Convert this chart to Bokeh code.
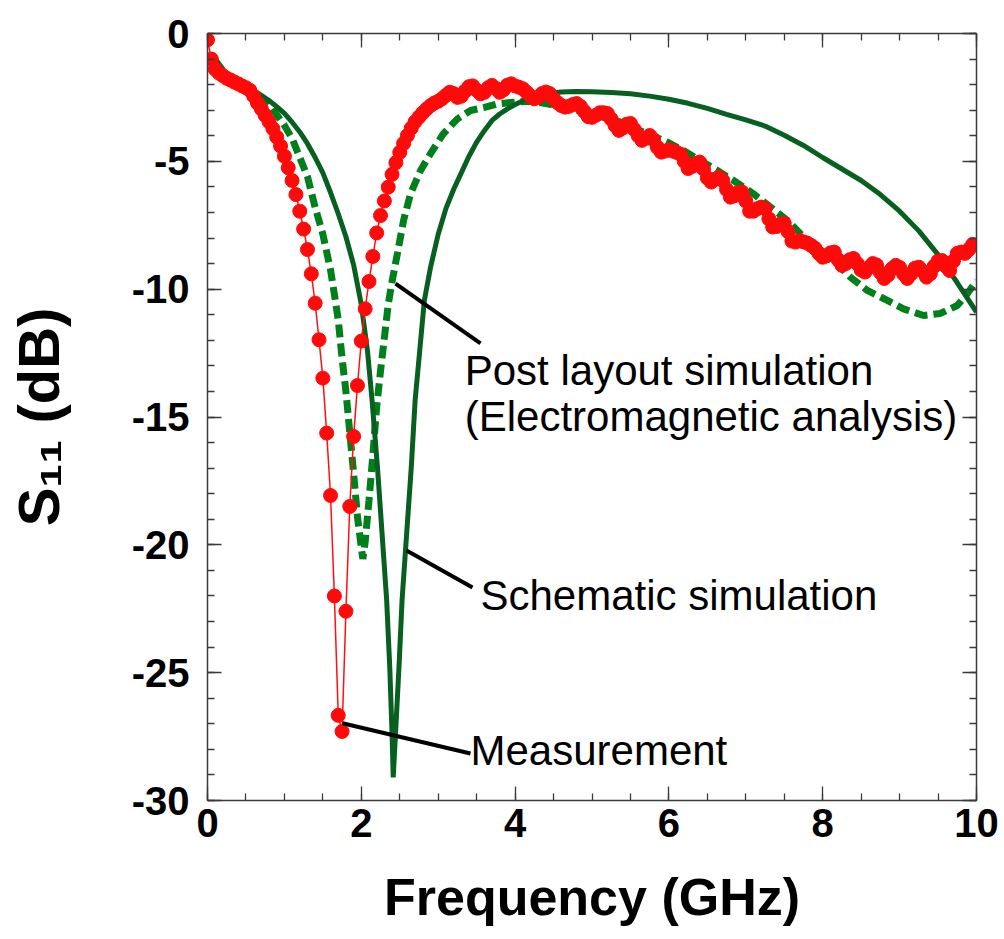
from bokeh.plotting import figure
from bokeh.models import (Range1d, LinearAxis, Label, FixedTicker,
                          ColumnDataSource, NumeralTickFormatter)
from bokeh.embed import file_html
from bokeh.resources import INLINE

# ---------------- data ----------------
meas_s11 = [
    -0.25, -1.00, -1.40, -1.55, -1.65, -1.75, -1.82, -1.90, -1.97, -2.05,
    -2.12, -2.22, -2.45, -2.72, -2.95, -3.20, -3.45, -3.72, -4.05, -4.40,
    -4.80, -5.25, -5.75, -6.30, -6.95, -7.65, -8.45, -9.40, -10.55, -11.98,
    -13.48, -15.63, -18.07, -22.00, -26.67, -27.30, -22.60, -18.50, -15.76, -13.77,
    -12.03, -10.77, -9.70, -8.72, -7.80, -7.12, -6.55, -6.01, -5.51, -5.05,
    -4.65, -4.30, -3.99, -3.70, -3.45, -3.27, -3.10, -2.95, -2.82, -2.72,
    -2.65, -2.55, -2.42, -2.30, -2.35, -2.50, -2.45, -2.25, -2.08, -2.05,
    -2.22, -2.36, -2.30, -2.12, -2.03, -2.15, -2.30, -2.20, -2.02, -1.97,
    -2.05, -2.10, -2.16, -2.30, -2.45, -2.55, -2.50, -2.35, -2.29, -2.35,
    -2.55, -2.70, -2.82, -2.88, -2.85, -2.78, -2.74, -2.85, -3.05, -3.25,
    -3.28, -3.20, -3.10, -3.10, -3.13, -3.35, -3.60, -3.79, -3.70, -3.55,
    -3.52, -3.75, -4.00, -4.18, -4.10, -3.99, -4.15, -4.45, -4.64, -4.60,
    -4.55, -4.60, -4.65, -4.72, -5.00, -5.28, -5.20, -5.08, -5.03, -5.30,
    -5.65, -5.81, -5.70, -5.62, -5.75, -6.10, -6.40, -6.35, -6.22, -6.20,
    -6.55, -6.95, -6.95, -6.85, -6.79, -6.85, -7.25, -7.57, -7.55, -7.45,
    -7.43, -7.75, -8.12, -8.16, -8.10, -8.15, -8.20, -8.29, -8.40, -8.60,
    -8.75, -8.70, -8.58, -8.55, -8.85, -9.07, -9.00, -8.85, -8.80, -9.00,
    -9.25, -9.33, -9.15, -9.00, -9.05, -9.35, -9.58, -9.45, -9.20, -9.07,
    -9.15, -9.40, -9.58, -9.40, -9.18, -9.14, -9.30, -9.53, -9.40, -9.10,
    -8.90, -8.88, -9.10, -9.27, -8.90, -8.60, -8.55, -8.60, -8.45, -8.25,
]
meas_freq = [round(i * 0.05, 2) for i in range(len(meas_s11))]

sch_freq = [0.1, 0.2, 0.3, 0.4, 0.5, 0.6, 0.7, 0.8, 0.9, 1.0,
            1.1, 1.2, 1.3, 1.4, 1.5, 1.6, 1.7, 1.8, 1.9, 2.0,
            2.08, 2.14, 2.21, 2.27, 2.33, 2.37, 2.40, 2.415, 2.445, 2.49,
            2.53, 2.59, 2.65, 2.70, 2.76, 2.82, 2.9, 3.0, 3.1, 3.2,
            3.3, 3.4, 3.5, 3.6, 3.7, 3.8, 3.9, 4.0, 4.2, 4.4,
            4.6, 4.8, 5.0, 5.25, 5.5, 5.75, 6.0, 6.25, 6.5, 6.75,
            7.0, 7.25, 7.5, 7.75, 8.0, 8.25, 8.5, 8.75, 9.0, 9.25,
            9.5, 9.75, 10.0]
sch_s11 = [-1.05, -1.45, -1.75, -1.95, -2.08, -2.22, -2.42, -2.62, -2.86, -3.12,
           -3.47, -3.85, -4.31, -4.85, -5.45, -6.22, -7.05, -7.95, -9.05, -10.6,
           -12.4, -14.35, -16.96, -19.55, -22.17, -24.78, -27.38, -29.1, -27.38, -24.78,
           -22.17, -19.55, -16.96, -14.35, -12.4, -10.44, -9.15, -7.85, -6.85, -6.1,
           -5.45, -4.8, -4.25, -3.8, -3.4, -3.15, -2.95, -2.78, -2.49, -2.36,
           -2.29, -2.27, -2.28, -2.31, -2.36, -2.45, -2.57, -2.73, -2.93, -3.16,
           -3.38, -3.62, -3.98, -4.38, -4.85, -5.3, -5.75, -6.3, -6.95, -7.72,
           -8.65, -9.75, -10.9]

em_freq = [0.1, 0.2, 0.3, 0.4, 0.5, 0.6, 0.7, 0.8, 0.9, 1.0,
           1.1, 1.2, 1.3, 1.4, 1.5, 1.6, 1.65, 1.7, 1.75, 1.8,
           1.85, 1.9, 1.95, 2.0, 2.02, 2.05, 2.1, 2.15, 2.2, 2.25,
           2.3, 2.35, 2.4, 2.47, 2.55, 2.64, 2.77, 2.9, 3.07, 3.25,
           3.42, 3.59, 3.77, 3.98, 4.2, 4.42, 4.8, 5.0, 5.37, 5.7,
           5.98, 6.19, 6.41, 6.63, 6.84, 7.1, 7.32, 7.54, 7.71, 7.93,
           8.14, 8.36, 8.58, 8.84, 9.05, 9.31, 9.53, 9.75, 9.88, 10.0]
em_s11 = [-1.05, -1.45, -1.75, -1.97, -2.15, -2.33, -2.5, -2.78, -3.17, -3.6,
          -4.1, -4.85, -5.6, -6.8, -7.85, -9.25, -10.2, -11.2, -12.7, -14.0,
          -15.6, -17.2, -18.9, -20.1, -20.55, -19.9, -18.26, -16.5, -14.6, -13.2,
          -11.9, -10.6, -9.7, -8.6, -7.31, -6.27, -5.36, -4.7, -3.91, -3.34,
          -3.01, -2.9, -2.75, -2.69, -2.65, -2.75, -3.0, -3.15, -3.47, -3.9,
          -4.25, -4.58, -4.97, -5.36, -5.75, -6.27, -6.79, -7.31, -7.83, -8.36,
          -8.88, -9.53, -10.05, -10.44, -10.77, -11.03, -10.95, -10.64, -10.18, -9.66]

x_ticks = [0, 2, 4, 6, 8, 10]
x_minor = [0.5 * i for i in range(21)]
y_ticks = [0, -5, -10, -15, -20, -25, -30]
y_minor = [-i for i in range(31)]

x_title = "Frequency (GHz)"
y_title = "S\u2081\u2081 (dB)"

# annotation texts and leader-line anchors (data coords)
ann_text = ["Post layout simulation", "(Electromagnetic analysis)",
            "Schematic simulation", "Measurement"]
ann_x = [3.345, 3.345, 3.55, 3.42]
ann_y = [-13.18, -14.98, -21.98, -28.05]
lead_x0 = [2.445, 2.588, 1.756]
lead_y0 = [-9.78, -20.22, -26.98]
lead_x1 = [3.55, 3.446, 3.42]
lead_y1 = [-12.12, -21.67, -28.16]

# ---------------- figure ----------------
W, H = 1000, 939
p = figure(width=W, height=H, x_range=Range1d(0, 10), y_range=Range1d(-30, 0),
           output_backend="svg", toolbar_location=None,
           min_border_left=207, min_border_right=24,
           min_border_top=33, min_border_bottom=139)
p.grid.visible = False
p.outline_line_color = None
p.background_fill_color = "white"
p.border_fill_color = "white"

AX = "#3a3a3a"
FONT = "Liberation Sans"


def style_axis(ax, major, minor, show_labels):
    ax.ticker = FixedTicker(ticks=major, minor_ticks=minor)
    ax.axis_line_color = AX
    ax.axis_line_width = 1.5
    ax.major_tick_line_color = AX
    ax.minor_tick_line_color = AX
    ax.major_tick_line_width = 1.3
    ax.minor_tick_line_width = 1.3
    ax.major_tick_in = 14
    ax.major_tick_out = 0
    ax.minor_tick_in = 7
    ax.minor_tick_out = 0
    if show_labels:
        ax.formatter = NumeralTickFormatter(format="0")
        ax.major_label_text_font = FONT
        ax.major_label_text_font_style = "bold"
        ax.major_label_text_font_size = "40px"
        ax.major_label_text_color = "black"
        ax.axis_label_text_font = FONT
        ax.axis_label_text_font_style = "bold"
        ax.axis_label_text_color = "black"
    else:
        ax.major_label_text_font_size = "0px"
        ax.major_label_text_color = None
        ax.major_label_standoff = 0


xa = p.xaxis[0]
ya = p.yaxis[0]
style_axis(xa, x_ticks, x_minor, True)
style_axis(ya, y_ticks, y_minor, True)
xa.major_label_standoff = 8
ya.major_label_standoff = 18
xa.axis_label = x_title
xa.axis_label_text_font_size = "52px"
xa.axis_label_standoff = 28
ya.axis_label = y_title
ya.axis_label_text_font_size = "58px"
ya.axis_label_standoff = 58

top = LinearAxis()
style_axis(top, x_ticks, x_minor, False)
p.add_layout(top, "above")
right = LinearAxis()
style_axis(right, y_ticks, y_minor, False)
p.add_layout(right, "right")

# ---------------- series ----------------
em_src = ColumnDataSource(dict(x=em_freq, y=em_s11))
sch_src = ColumnDataSource(dict(x=sch_freq, y=sch_s11))
meas_src = ColumnDataSource(dict(x=meas_freq, y=meas_s11))

p.line("x", "y", source=em_src, line_color="#00801a", line_width=7,
       line_dash="13 6")
p.line("x", "y", source=sch_src, line_color="#07601f", line_width=5)
p.line("x", "y", source=meas_src, line_color="#ff1010", line_width=1.5)
p.scatter("x", "y", source=meas_src, size=14, fill_color="#ff0a0a",
          line_color="#ff0a0a")

# leader lines
p.segment(x0=lead_x0, y0=lead_y0, x1=lead_x1, y1=lead_y1,
          line_color="black", line_width=4)

for t, x, y in zip(ann_text, ann_x, ann_y):
    p.add_layout(Label(x=x, y=y, text=t, text_font=FONT, text_font_size="42px",
                       text_color="black", text_align="left",
                       text_baseline="alphabetic"))

open("out.html", "w").write(file_html(p, INLINE))
